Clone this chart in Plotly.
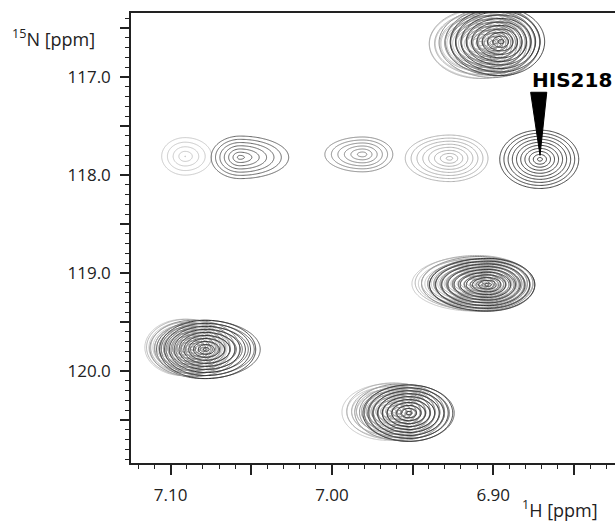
import numpy as np
import plotly.graph_objects as go

# ---------------- data ----------------
# five overlaid 1H-15N spectra, five resonances each:
# [peak near 116.6, HIS218, peak near 119.1, peak near 119.8, peak near 120.4]
spec_colors = ["#c2c2c2", "#555555", "#7a7a7a", "#a8a8a8", "#2a2a2a"]

h_ppm = [
    [6.905, 7.091, 6.912, 7.092, 6.965],
    [6.898, 7.057, 6.905, 7.080, 6.953],
    [6.900, 6.981, 6.908, 7.086, 6.958],
    [6.908, 6.927, 6.910, 7.090, 6.962],
    [6.895, 6.871, 6.903, 7.078, 6.952],
]
n_ppm = [
    [116.66, 117.81, 119.11, 119.76, 120.42],
    [116.64, 117.82, 119.12, 119.78, 120.43],
    [116.65, 117.79, 119.11, 119.77, 120.42],
    [116.66, 117.83, 119.10, 119.76, 120.41],
    [116.64, 117.84, 119.12, 119.78, 120.43],
]
# half widths (ppm): towards higher 1H (plot left), towards lower 1H (plot right), 15N
w_left = [
    [0.036, 0.016, 0.040, 0.025, 0.030],
    [0.033, 0.019, 0.036, 0.030, 0.028],
    [0.035, 0.025, 0.038, 0.028, 0.029],
    [0.033, 0.029, 0.040, 0.026, 0.030],
    [0.033, 0.026, 0.038, 0.030, 0.030],
]
w_right = [
    [0.030, 0.018, 0.036, 0.028, 0.030],
    [0.028, 0.032, 0.032, 0.037, 0.030],
    [0.030, 0.020, 0.034, 0.030, 0.029],
    [0.030, 0.025, 0.036, 0.028, 0.030],
    [0.028, 0.025, 0.030, 0.032, 0.028],
]
w_n = [
    [0.37, 0.21, 0.29, 0.30, 0.30],
    [0.36, 0.23, 0.28, 0.31, 0.30],
    [0.37, 0.19, 0.29, 0.30, 0.30],
    [0.37, 0.25, 0.29, 0.30, 0.30],
    [0.36, 0.31, 0.28, 0.31, 0.30],
]
intensity = [
    [1.0, 0.45, 1.0, 1.0, 1.0],
    [1.0, 0.70, 1.0, 1.0, 1.0],
    [1.0, 0.62, 1.0, 1.0, 1.0],
    [1.0, 0.80, 1.0, 1.0, 1.0],
    [1.0, 1.00, 1.0, 1.0, 1.0],
]
label_peak = (4, 1)  # spectrum 5, HIS218
label_text = "HIS218"

x_ticks = [7.10, 7.05, 7.00, 6.95, 6.90, 6.85]
x_ticktext = ["7.10", "", "7.00", "", "6.90", ""]
y_ticks = [116.5, 117.0, 117.5, 118.0, 118.5, 119.0, 119.5, 120.0, 120.5]
y_ticktext = ["", "117.0", "", "118.0", "", "119.0", "", "120.0", ""]

# ---------------- figure ----------------
fig = go.Figure()
for s, col in enumerate(spec_colors):
    for p in range(len(h_ppm[s])):
        hc, nc = h_ppm[s][p], n_ppm[s][p]
        wl, wr, wn = w_left[s][p], w_right[s][p], w_n[s][p]
        xs = np.linspace(hc - 1.1 * wr, hc + 1.1 * wl, 80)
        ys = np.linspace(nc - 1.1 * wn, nc + 1.1 * wn, 80)
        X, Y = np.meshgrid(xs, ys)
        dx = np.where(X >= hc, (X - hc) / wl, (hc - X) / wr)
        dy = (Y - nc) / wn
        r = np.sqrt(dx ** 2 + dy ** 2)
        z = np.round(intensity[s][p] * (1 - r), 3)
        fig.add_trace(go.Contour(
            x=np.round(xs, 5), y=np.round(ys, 4), z=z,
            contours=dict(coloring="lines", start=0.04, end=1.0, size=0.1, showlabels=False),
            colorscale=[[0, col], [1, col]], showscale=False,
            line=dict(width=0.9, smoothing=0.8), hoverinfo="skip",
        ))

# HIS218 pointer
ls, lp = label_peak
tip_x, tip_y = h_ppm[ls][lp], n_ppm[ls][lp] - 0.04
fig.add_shape(type="path", xref="x", yref="y",
              path=f"M {tip_x + 0.0058} 117.156 L {tip_x - 0.0042} 117.156 L {tip_x} {tip_y} Z",
              fillcolor="black", line=dict(color="black", width=1))
fig.add_annotation(xref="paper", yref="paper", x=0.912, y=0.852, xanchor="center", yanchor="middle",
                   text=f"<b>{label_text}</b>", showarrow=False,
                   font=dict(family="DejaVu Sans", size=20, color="black"))

fig.add_annotation(xref="paper", yref="paper", x=-0.25, y=0.944, xanchor="left", yanchor="middle",
                   text="<sup>15</sup>N [ppm]", showarrow=False,
                   font=dict(family="Open Sans", size=18, color="#222"))
fig.add_annotation(xref="paper", yref="paper", x=0.97, y=-0.103, xanchor="right", yanchor="middle",
                   text="<sup>1</sup>H [ppm]", showarrow=False,
                   font=dict(family="Open Sans", size=18, color="#222"))

axis_common = dict(showgrid=False, zeroline=False, showline=True, linecolor="#222", linewidth=1.5,
                   ticks="outside", tickcolor="#222", tickwidth=1.5,
                   tickfont=dict(family="Open Sans", size=17, color="#222"))
fig.update_xaxes(range=[7.1246, 6.8245], tickmode="array", tickvals=x_ticks, ticktext=x_ticktext,
                 ticklen=10, mirror=True, ticklabelstandoff=6,
                 minor=dict(tickmode="linear", tick0=7.0, dtick=0.01, ticklen=4, tickwidth=1,
                            ticks="outside", tickcolor="#222"),
                 **axis_common)
fig.update_yaxes(range=[120.939, 116.347], tickmode="array", tickvals=y_ticks, ticktext=y_ticktext,
                 ticklen=9, mirror=False, ticklabelstandoff=6,
                 minor=dict(tickmode="linear", tick0=117.0, dtick=0.1, ticklen=4, tickwidth=1,
                            ticks="outside", tickcolor="#222"),
                 **axis_common)
fig.update_layout(width=615, height=522, margin=dict(l=131, r=0, t=13, b=59),
                  paper_bgcolor="white", plot_bgcolor="white", showlegend=False)
fig.write_html("out.html", config={"displayModeBar": False},
               post_script="document.body.style.margin='0';document.body.style.overflow='hidden';")
